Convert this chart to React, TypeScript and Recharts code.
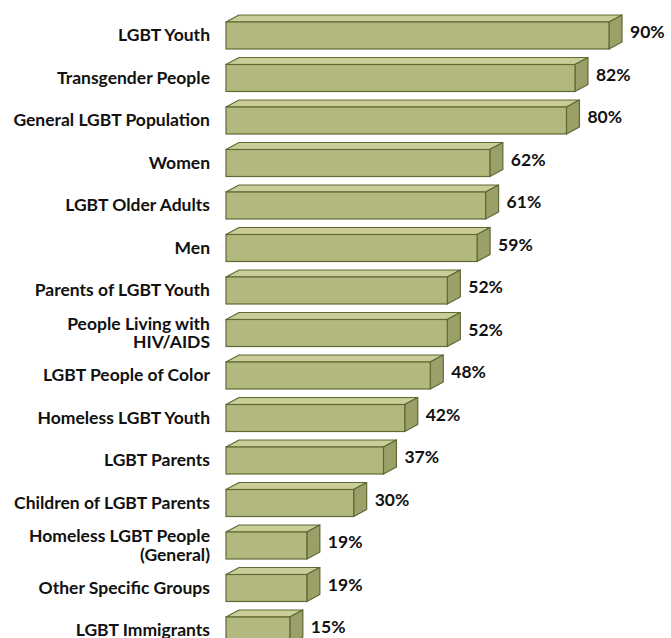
import React from 'react';
import { BarChart, Bar, XAxis, YAxis, LabelList } from 'recharts';

const categories = [
  'LGBT Youth',
  'Transgender People',
  'General LGBT Population',
  'Women',
  'LGBT Older Adults',
  'Men',
  'Parents of LGBT Youth',
  'People Living with\nHIV/AIDS',
  'LGBT People of Color',
  'Homeless LGBT Youth',
  'LGBT Parents',
  'Children of LGBT Parents',
  'Homeless LGBT People\n(General)',
  'Other Specific Groups',
  'LGBT Immigrants',
];
const values = [90, 82, 80, 62, 61, 59, 52, 52, 48, 42, 37, 30, 19, 19, 15];

const data = categories.map((name, i) => ({ name, value: values[i] }));

const FONT = 'Lato, "Open Sans", sans-serif';
const FS = 17.5;
const DX = 13;
const DY = 7;
const FRONT = '#b3b97e';
const TOP = '#cacd97';
const SIDE = '#9ba068';
const EDGE = '#5e6934';

const Bar3D = (props: any) => {
  const { x, y, width, height } = props;
  if (width <= 0) return null;
  const top = `M${x},${y} L${x + DX},${y - DY} L${x + width + DX},${y - DY} L${x + width},${y} Z`;
  const side = `M${x + width},${y} L${x + width + DX},${y - DY} L${x + width + DX},${y + height - DY} L${x + width},${y + height} Z`;
  return (
    <g>
      <path d={top} fill={TOP} stroke={EDGE} strokeWidth={1.2} strokeLinejoin="round" />
      <path d={side} fill={SIDE} stroke={EDGE} strokeWidth={1.2} strokeLinejoin="round" />
      <rect x={x} y={y} width={width} height={height} fill={FRONT} stroke={EDGE} strokeWidth={1.2} />
    </g>
  );
};

const Tick = (props: any) => {
  const { x, y, payload } = props;
  const lines = String(payload.value).split('\n');
  const lh = 18.5;
  const start = -((lines.length - 1) * lh) / 2;
  return (
    <text
      x={x}
      y={y}
      textAnchor="end"
      fontFamily={FONT}
      fontWeight={700}
      fontSize={FS}
      fill="#111"
    >
      {lines.map((l, i) => (
        <tspan key={i} x={x} dy={i === 0 ? start + 6.2 : lh}>
          {l}
        </tspan>
      ))}
    </text>
  );
};

const ValueLabel = (props: any) => {
  const { x, y, width, height, value } = props;
  return (
    <text
      x={x + width + DX + 8}
      y={y + height / 2 - DY / 2 + 6.2}
      textAnchor="start"
      fontFamily={FONT}
      fontWeight={700}
      fontSize={FS}
      fill="#111"
    >
      {value}%
    </text>
  );
};

export default function App() {
  return (
    <div style={{ position: 'absolute', left: 0, top: 0 }}>
      <BarChart
        width={671}
        height={660}
        data={data}
        layout="vertical"
        margin={{ top: 14, right: 62, bottom: 8.5, left: 0 }}
        barSize={27}
      >
        <XAxis type="number" domain={[0, 90]} hide />
        <YAxis
          type="category"
          dataKey="name"
          width={226}
          axisLine={false}
          tickLine={false}
          tickSize={0}
          tickMargin={16}
          interval={0}
          tick={<Tick />}
        />
        <Bar dataKey="value" shape={<Bar3D />} isAnimationActive={false}>
          <LabelList dataKey="value" content={<ValueLabel />} />
        </Bar>
      </BarChart>
    </div>
  );
}
